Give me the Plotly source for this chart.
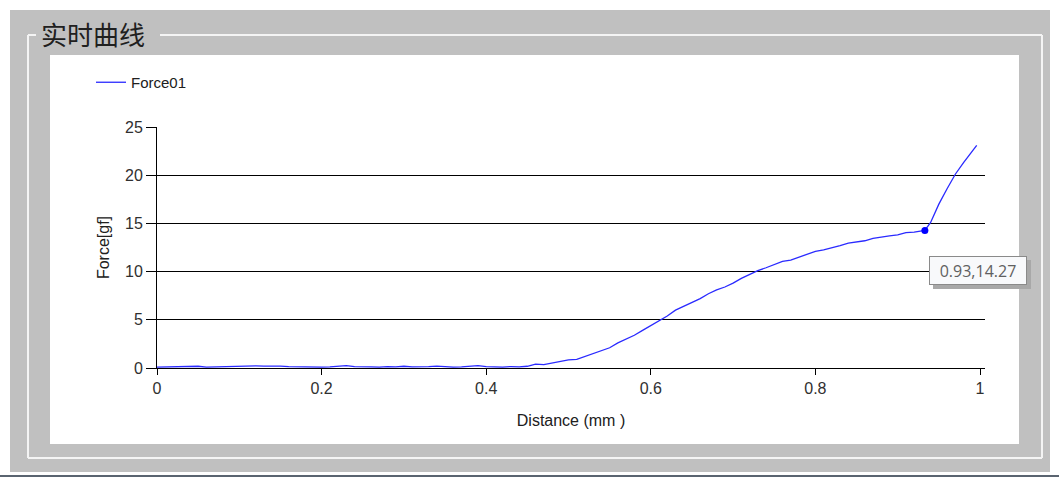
import plotly.graph_objects as go

distance = [0.00, 0.01, 0.02, 0.03, 0.04, 0.05, 0.06, 0.07, 0.08, 0.09,
            0.10, 0.11, 0.12, 0.13, 0.14, 0.15, 0.16, 0.17, 0.18, 0.19,
            0.20, 0.21, 0.22, 0.23, 0.24, 0.25, 0.26, 0.27, 0.28, 0.29,
            0.30, 0.31, 0.32, 0.33, 0.34, 0.35, 0.36, 0.37, 0.38, 0.39,
            0.40, 0.41, 0.42, 0.43, 0.44, 0.45, 0.46, 0.47, 0.48, 0.49,
            0.50, 0.51, 0.52, 0.53, 0.54, 0.55, 0.56, 0.57, 0.58, 0.59,
            0.60, 0.61, 0.62, 0.63, 0.64, 0.65, 0.66, 0.67, 0.68, 0.69,
            0.70, 0.71, 0.72, 0.73, 0.74, 0.75, 0.76, 0.77, 0.78, 0.79,
            0.80, 0.81, 0.82, 0.83, 0.84, 0.85, 0.86, 0.87, 0.88, 0.89,
            0.90, 0.91, 0.92, 0.93, 0.933, 0.94, 0.95, 0.96, 0.97, 0.98,
            0.99, 0.996]
force = [0.10, 0.12, 0.10, 0.15, 0.12, 0.18, 0.10, 0.12, 0.15, 0.22,
         0.18, 0.20, 0.22, 0.20, 0.22, 0.20, 0.15, 0.12, 0.15, 0.12,
         0.10, 0.12, 0.20, 0.25, 0.15, 0.10, 0.12, 0.10, 0.15, 0.12,
         0.18, 0.12, 0.10, 0.15, 0.20, 0.12, 0.10, 0.12, 0.18, 0.25,
         0.15, 0.12, 0.10, 0.15, 0.12, 0.18, 0.40, 0.35, 0.50, 0.70,
         0.85, 0.90, 1.20, 1.50, 1.80, 2.10, 2.60, 3.00, 3.40, 3.90,
         4.40, 4.90, 5.40, 6.00, 6.40, 6.80, 7.20, 7.70, 8.10, 8.40,
         8.80, 9.30, 9.70, 10.10, 10.40, 10.70, 11.05, 11.20, 11.50, 11.85,
         12.10, 12.25, 12.45, 12.70, 12.95, 13.05, 13.20, 13.45, 13.60, 13.70,
         13.80, 14.05, 14.10, 14.20, 14.27, 15.10, 17.00, 18.60, 20.10, 21.30,
         22.40, 23.10]

marker_x = [0.933]
marker_y = [14.27]
tooltip_text = "0.93,14.27"

x_ticks = [0, 0.2, 0.4, 0.6, 0.8, 1]
x_labels = ["0", "0.2", "0.4", "0.6", "0.8", "1"]
y_ticks = [0, 5, 10, 15, 20, 25]

# plot area geometry in pixels
W, H = 1059, 479
L, R, T, B = 157, 985, 127, 368


def px(X):
    return (X - L) / (R - L)


def py(Y):
    return (B - Y) / (B - T)


fig = go.Figure()
fig.add_trace(go.Scatter(x=distance, y=force, mode="lines", name="Force01",
                         line=dict(color="#2a2aff", width=1.3),
                         hoverinfo="skip"))
fig.add_trace(go.Scatter(x=marker_x, y=marker_y, mode="markers", showlegend=False,
                         marker=dict(color="#0000ff", size=7), hoverinfo="skip"))

shapes = []
# gray panel
shapes.append(dict(type="rect", xref="paper", yref="paper", x0=px(10), x1=px(1050),
                   y0=py(10), y1=py(472), fillcolor="#c0c0c0", line=dict(width=0), layer="below"))
# group frame lines
fc = "#f4f4f4"
for (x0, y0, x1, y1) in [(28, 35, 36, 35), (160, 35, 1042, 35), (28, 35, 28, 458),
                         (28, 458, 1042, 458), (1042, 35, 1042, 458)]:
    shapes.append(dict(type="line", xref="paper", yref="paper", x0=px(x0), x1=px(x1),
                       y0=py(y0), y1=py(y1), line=dict(color=fc, width=2), layer="below"))
# white chart area
shapes.append(dict(type="rect", xref="paper", yref="paper", x0=px(50), x1=px(1019),
                   y0=py(55), y1=py(444), fillcolor="#ffffff", line=dict(width=0), layer="below"))
# bottom dark line
shapes.append(dict(type="line", xref="paper", yref="paper", x0=px(0), x1=px(1059),
                   y0=py(476), y1=py(476), line=dict(color="#5a6470", width=2), layer="below"))
# tooltip shadow
shapes.append(dict(type="rect", xref="paper", yref="paper", x0=px(933), x1=px(1031),
                   y0=py(260), y1=py(289), fillcolor="#a8a8a8", line=dict(width=0), layer="above"))

annotations = [
    dict(text="实时曲线", xref="paper", yref="paper", x=px(39), y=py(33), xanchor="left",
         yanchor="middle", showarrow=False,
         font=dict(family="Noto Sans CJK SC", size=26, color="#202020")),
    dict(text=tooltip_text, xref="paper", yref="paper", x=px(978), y=py(270.5), xanchor="center",
         yanchor="middle", showarrow=False, bgcolor="#f8f9fb", bordercolor="#8a8a8a",
         borderwidth=1, borderpad=4, width=88, height=19,
         font=dict(family="Open Sans", size=16, color="#606060")),
]

fig.update_layout(
    width=W, height=H,
    margin=dict(l=L, r=W - R, t=T, b=H - B),
    paper_bgcolor="#ffffff",
    plot_bgcolor="rgba(0,0,0,0)",
    shapes=shapes,
    annotations=annotations,
    showlegend=True,
    legend=dict(x=px(91), y=py(66), xanchor="left", yanchor="top",
                bgcolor="rgba(0,0,0,0)",
                font=dict(family="Liberation Sans", size=15, color="#202020")),
    xaxis=dict(range=[0, (R - L) / 823], tickvals=x_ticks, ticktext=x_labels,
               showgrid=False, zeroline=False, showline=True, linecolor="#000000",
               linewidth=1, ticks="outside", ticklen=6, tickcolor="#000000",
               tickfont=dict(family="Liberation Sans", size=16, color="#303030"),
               title=dict(text="Distance (mm )", standoff=18,
                          font=dict(family="Liberation Sans", size=16, color="#202020"))),
    yaxis=dict(range=[0, 25], tickvals=y_ticks, showgrid=True, gridcolor="#000000",
               gridwidth=1, zeroline=False, showline=True, linecolor="#000000",
               linewidth=1, ticks="outside", ticklen=10, tickcolor="#000000",
               tickfont=dict(family="Liberation Sans", size=16, color="#303030"),
               title=dict(text="Force[gf]", standoff=11,
                          font=dict(family="Liberation Sans", size=16, color="#202020"))),
)

fig.write_html("out.html", config={"displayModeBar": False},
               post_script="document.body.style.margin='0px';")
